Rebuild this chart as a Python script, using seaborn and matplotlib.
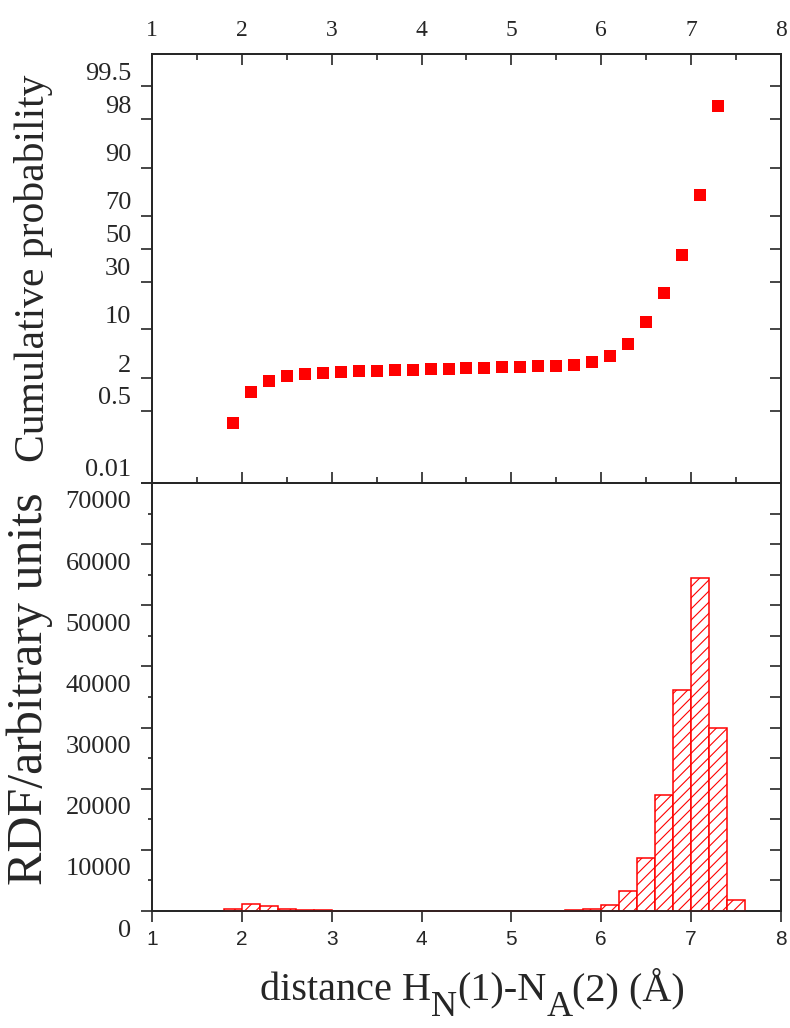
import math
import numpy as np
import pandas as pd
import matplotlib
matplotlib.use('Agg')
import matplotlib.pyplot as plt
import matplotlib.transforms as mtransforms
from matplotlib.ticker import MultipleLocator, NullLocator, FixedLocator
import seaborn as sns

# cumulative probability (%) at the bin centres
dist = [1.9, 2.1, 2.3, 2.5, 2.7, 2.9, 3.1, 3.3, 3.5, 3.7, 3.9, 4.1, 4.3, 4.5,
        4.7, 4.9, 5.1, 5.3, 5.5, 5.7, 5.9, 6.1, 6.3, 6.5, 6.7, 6.9, 7.1, 7.3]
cum_prob = [0.28, 1.15, 1.81, 2.14, 2.33, 2.45, 2.50, 2.57, 2.60, 2.66, 2.74, 2.76,
            2.83, 2.87, 2.91, 2.97, 3.01, 3.08, 3.16, 3.29, 3.59, 4.35, 6.46, 12.1,
            23.9, 46.2, 80.2, 98.83]

# RDF histogram
bin_edges = [1.8, 2.0, 2.2, 2.4, 2.6, 2.8, 3.0, 3.2, 3.4, 3.6, 3.8, 4.0, 4.2, 4.4, 4.6,
             4.8, 5.0, 5.2, 5.4, 5.6, 5.8, 6.0, 6.2, 6.4, 6.6, 6.8, 7.0, 7.2, 7.4, 7.6]
rdf = [250, 1150, 870, 380, 150, 90, 70, 60, 55, 50, 50, 50, 50, 50, 50, 55, 55, 60,
       80, 170, 400, 1000, 3270, 8600, 18950, 36100, 54500, 29850, 1740]

prob_ticks = [0.01, 0.5, 2, 10, 30, 50, 70, 90, 98, 99.5]
prob_labels = ['0.01', '0.5', '2', '10', '30', '50', '70', '90', '98', '99.5']
rdf_ticks = [0, 10000, 20000, 30000, 40000, 50000, 60000, 70000]

_erf = np.vectorize(math.erf, otypes=[float])

def pct_to_z(p):
	# inverse normal cdf by bisection (no scipy here)
	p = np.clip(np.asarray(p, dtype=float) / 100.0, 1e-12, 1 - 1e-12)
	lo = np.full(p.shape, -8.0)
	hi = np.full(p.shape, 8.0)
	for _ in range(55):
		mid = 0.5 * (lo + hi)
		below = 0.5 * (1 + _erf(mid / np.sqrt(2))) < p
		lo = np.where(below, mid, lo)
		hi = np.where(below, hi, mid)
	return 0.5 * (lo + hi)

def z_to_pct(z):
	return 100.0 * 0.5 * (1 + _erf(np.asarray(z, dtype=float) / np.sqrt(2)))

sns.set_style('ticks')
plt.rcParams['font.family'] = ['Liberation Serif', 'DejaVu Serif']
plt.rcParams['hatch.linewidth'] = 0.8
plt.rcParams['axes.linewidth'] = 1.3

fig = plt.figure(figsize=(7.9, 10.28), dpi=100)
ax1 = fig.add_axes([0.1924, 0.5302, 0.7962, 0.4173])
ax2 = fig.add_axes([0.1924, 0.1138, 0.7962, 0.4164])

# --- top: cumulative probability on a normal probability scale
ax1.set_yscale('function', functions=(pct_to_z, z_to_pct))
sns.scatterplot(x=dist, y=cum_prob, marker='s', s=80, color='red', linewidth=0, ax=ax1)
ax1.set_xlim(1, 8)
ax1.set_ylim(0.01, 99.9)
ax1.yaxis.set_major_locator(FixedLocator(prob_ticks))
ax1.set_yticklabels(prob_labels)
ax1.yaxis.set_minor_locator(NullLocator())
ax1.xaxis.set_major_locator(MultipleLocator(1))
ax1.xaxis.set_minor_locator(MultipleLocator(0.5))
ax1.tick_params(axis='x', which='both', direction='in', top=True, bottom=True,
                labeltop=True, labelbottom=False, width=1.2, labelsize=17, pad=9)
ax1.tick_params(axis='x', which='major', length=8)
ax1.tick_params(axis='x', which='minor', length=4.5)
ax1.tick_params(axis='y', direction='out', length=8, width=1.2, labelsize=19, pad=7, right=False)
ax1.set_ylabel('Cumulative probability', size=30)
ax1.yaxis.set_label_coords(-0.157, 0.5)

r1 = ax1.twinx()
r1.set_yscale('function', functions=(pct_to_z, z_to_pct))
r1.set_ylim(0.01, 99.9)
r1.yaxis.set_major_locator(FixedLocator(prob_ticks))
r1.yaxis.set_minor_locator(NullLocator())
r1.tick_params(axis='y', direction='in', length=8, width=1.2, labelright=False)

# --- bottom: RDF histogram
centres = (np.array(bin_edges[:-1]) + np.array(bin_edges[1:])) / 2
sns.histplot(x=centres, weights=rdf, bins=bin_edges, color='red', ax=ax2)
for p in ax2.patches:
	p.set_facecolor('white')
	p.set_edgecolor('red')
	p.set_hatch('///')
	p.set_linewidth(1.1)
	p.set_alpha(1)
	p.set_zorder(3)
	p.set_clip_on(False)
ax2.set_xlim(1, 8)
ax2.set_ylim(0, 70000)
ax2.set_yticks(rdf_ticks)
ax2.set_yticklabels([str(v) for v in rdf_ticks])
ax2.yaxis.set_minor_locator(MultipleLocator(5000))
ax2.xaxis.set_major_locator(MultipleLocator(1))
ax2.tick_params(axis='x', direction='out', length=8, width=1.2, labelsize=15, pad=6, top=False)
for lab in ax2.get_xticklabels():
	lab.set_family('Liberation Sans')
ax2.tick_params(axis='y', which='major', direction='out', length=8, width=1.2, labelsize=19, pad=7, right=False)
ax2.tick_params(axis='y', which='minor', direction='out', length=3, width=1.2, right=False)
ax2.set_ylabel('RDF/arbitrary units', size=36)
ax2.yaxis.set_label_coords(-0.157, 0.52)
ax2.set_xlabel('')

r2 = ax2.twinx()
r2.set_ylim(0, 70000)
r2.yaxis.set_major_locator(MultipleLocator(5000))
r2.tick_params(axis='y', direction='in', length=8, width=1.2, labelright=False)

# tick labels in the original sit off their ticks
up = mtransforms.ScaledTranslation(0, 15 / fig.dpi, fig.dpi_scale_trans)
down = mtransforms.ScaledTranslation(0, -17 / fig.dpi, fig.dpi_scale_trans)
for lab in ax1.get_yticklabels():
	lab.set_transform(lab.get_transform() + up)
for lab in ax2.get_yticklabels():
	lab.set_transform(lab.get_transform() + down)

# x label with nearly full-size lowered subscripts
fs, fs_sub = 29, 26
t = fig.text(260 / 790, 1 - 1000 / 1028, 'distance H', fontsize=fs, va='baseline')
for txt, dy, size in [('N', -11, fs_sub), ('(1)-N', 11, fs), ('A', -11, fs_sub), ('(2) (Å)', 11, fs)]:
	t = ax2.annotate(txt, xy=(1, 0), xycoords=t, xytext=(0, dy), textcoords='offset points',
	                 va='bottom', ha='left', fontsize=size, annotation_clip=False)

plt.savefig('out.png', dpi=100)
